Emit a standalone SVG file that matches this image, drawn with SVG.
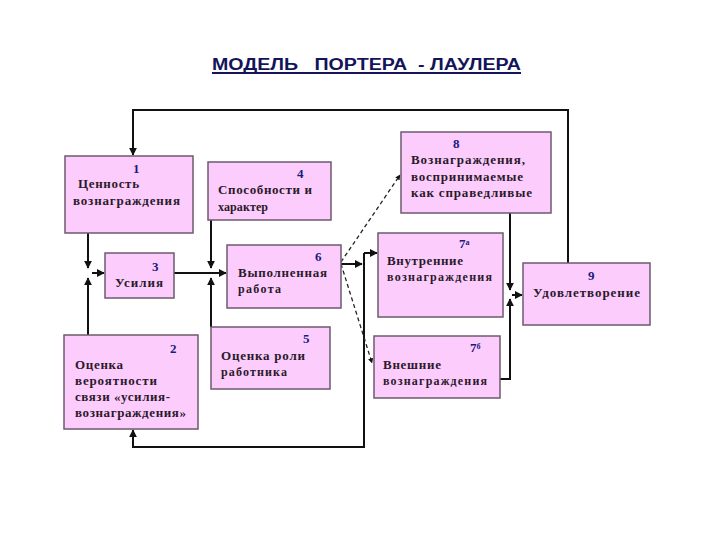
<svg xmlns="http://www.w3.org/2000/svg" width="720" height="540" viewBox="0 0 720 540">
<style>
.box{fill:#fcccfc;stroke:#6e5a6e;stroke-width:1.5}
.t{font-family:"Liberation Serif",serif;font-weight:bold;font-size:13px;fill:#2a1a2a}
.s{font-size:12px}
.n{font-family:"Liberation Serif",serif;font-weight:bold;font-size:13px;fill:#1a1a80}
.ln{fill:none;stroke:#111;stroke-width:2}
.dl{fill:none;stroke:#222;stroke-width:1.3;stroke-dasharray:4 3}
</style>
<defs>
<marker id="a" viewBox="0 0 10 10" refX="9" refY="5" markerWidth="4" markerHeight="4" orient="auto"><path d="M0,0L10,5L0,10z" fill="#111"/></marker>
</defs>
<rect width="720" height="540" fill="#fff"/>
<g id="title">
<text x="212" y="70" textLength="309" lengthAdjust="spacingAndGlyphs" font-family="Liberation Sans,Arial,sans-serif" font-weight="bold" font-size="16" fill="#14145a" xml:space="preserve">МОДЕЛЬ   ПОРТЕРА  - ЛАУЛЕРА</text>
<line x1="212" y1="73" x2="521" y2="73" stroke="#14145a" stroke-width="2"/>
</g>
<g id="connectors">
<polyline class="ln" points="568,263 568,110 133,110 133,155" marker-end="url(#a)"/>
<polyline class="ln" points="88,233 88,268" marker-end="url(#a)"/>
<polyline class="ln" points="88,335 88,278" marker-end="url(#a)"/>
<polyline class="ln" points="92,273 104,273" marker-end="url(#a)"/>
<polyline class="ln" points="174,273 226,273" marker-end="url(#a)"/>
<polyline class="ln" points="211,220 211,268" marker-end="url(#a)"/>
<polyline class="ln" points="211,327 211,278" marker-end="url(#a)"/>
<polyline class="ln" points="341,264 362,264" marker-end="url(#a)"/>
<polyline class="ln" points="364,253 377,253" marker-end="url(#a)"/>
<polyline class="ln" points="364,253 364,447 133,447 133,430" marker-end="url(#a)"/>
<polyline class="ln" points="510,213 510,290" marker-end="url(#a)"/>
<polyline class="ln" points="500,379 510,379 510,299" marker-end="url(#a)"/>
<polyline class="ln" points="512,295 522,295" marker-end="url(#a)"/>
<polyline class="dl" points="341,262 400,175" marker-end="url(#a)"/>
<polyline class="dl" points="341,264 372,363" marker-end="url(#a)"/>
</g>
<g id="node1"><rect class="box" x="65" y="156" width="128" height="77"/>
<text class="n" x="133" y="173">1</text>
<text class="t" x="78" y="188" textLength="61" lengthAdjust="spacing">Ценность</text>
<text class="t" x="73" y="205" textLength="107" lengthAdjust="spacing">вознаграждения</text></g>
<g id="node4"><rect class="box" x="208" y="162" width="123" height="58"/>
<text class="n" x="297" y="178">4</text>
<text class="t" x="218" y="194" textLength="94" lengthAdjust="spacing">Способности и</text>
<text class="t s" x="218" y="211" textLength="50" lengthAdjust="spacing">характер</text></g>
<g id="node3"><rect class="box" x="105" y="253" width="69" height="45"/>
<text class="n" x="152" y="271">3</text>
<text class="t" x="115" y="287" textLength="48" lengthAdjust="spacing">Усилия</text></g>
<g id="node6"><rect class="box" x="227" y="245" width="114" height="63"/>
<text class="n" x="315" y="261">6</text>
<text class="t" x="238" y="277" textLength="89" lengthAdjust="spacing">Выполненная</text>
<text class="t s" x="238" y="293" textLength="43" lengthAdjust="spacing">работа</text></g>
<g id="node2"><rect class="box" x="64" y="335" width="134" height="94"/>
<text class="n" x="170" y="353">2</text>
<text class="t" x="75" y="369" textLength="48" lengthAdjust="spacing">Оценка</text>
<text class="t" x="75" y="385" textLength="82" lengthAdjust="spacing">вероятности</text>
<text class="t" x="75" y="401" textLength="95" lengthAdjust="spacing">связи «усилия-</text>
<text class="t" x="75" y="417" textLength="111" lengthAdjust="spacing">вознаграждения»</text></g>
<g id="node5"><rect class="box" x="211" y="327" width="119" height="62"/>
<text class="n" x="303" y="343">5</text>
<text class="t" x="221" y="360" textLength="84" lengthAdjust="spacing">Оценка роли</text>
<text class="t s" x="221" y="376" textLength="66" lengthAdjust="spacing">работника</text></g>
<g id="node8"><rect class="box" x="401" y="132" width="150" height="81"/>
<text class="n" x="453" y="148">8</text>
<text class="t" x="411" y="164" textLength="114" lengthAdjust="spacing">Вознаграждения,</text>
<text class="t" x="411" y="181" textLength="112" lengthAdjust="spacing">воспринимаемые</text>
<text class="t" x="411" y="197" textLength="121" lengthAdjust="spacing">как справедливые</text></g>
<g id="node7a"><rect class="box" x="378" y="233" width="125" height="84"/>
<text class="n" x="459" y="248" font-size="11">7<tspan font-size="8" dy="-3">а</tspan></text>
<text class="t" x="387" y="265" textLength="76" lengthAdjust="spacing">Внутренние</text>
<text class="t s" x="387" y="281" textLength="105" lengthAdjust="spacing">вознаграждения</text></g>
<g id="node9"><rect class="box" x="523" y="263" width="127" height="62"/>
<text class="n" x="588" y="280">9</text>
<text class="t" x="533" y="297" textLength="107" lengthAdjust="spacing">Удовлетворение</text></g>
<g id="node7b"><rect class="box" x="374" y="336" width="126" height="62"/>
<text class="n" x="470" y="352" font-size="11">7<tspan font-size="8" dy="-3">б</tspan></text>
<text class="t" x="383" y="369" textLength="58" lengthAdjust="spacing">Внешние</text>
<text class="t s" x="383" y="385" textLength="104" lengthAdjust="spacing">вознаграждения</text></g>
</svg>
